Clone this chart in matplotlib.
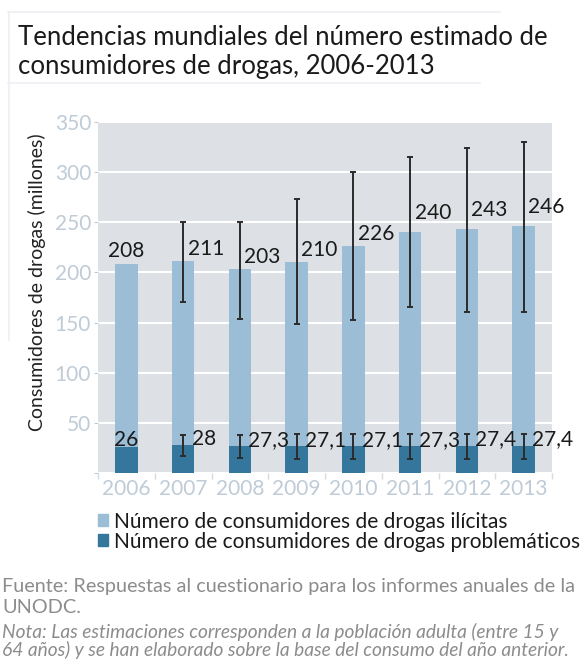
import matplotlib.pyplot as plt
from matplotlib.patches import Patch
from matplotlib.lines import Line2D
import numpy as np

plt.rcParams['font.family'] = ['Lato', 'DejaVu Sans']

# data
years = ['2006', '2007', '2008', '2009', '2010', '2011', '2012', '2013']
ilicitas = [208, 211, 203, 210, 226, 240, 243, 246]
ilicitas_low = [np.nan, 171, 154, 149, 153, 166, 161, 161]
ilicitas_high = [np.nan, 250, 250, 273, 300, 315, 324, 330]
problematicos = [26, 28, 27.3, 27.1, 27.1, 27.3, 27.4, 27.4]
prob_low = [np.nan, 17, 15, 14, 14, 14, 14, 14]
prob_high = [np.nan, 38, 38, 39, 39, 39, 39, 39]
ilicitas_labels = ['208', '211', '203', '210', '226', '240', '243', '246']
prob_labels = ['26', '28', '27,3', '27,1', '27,1', '27,3', '27,4', '27,4']

light = '#9bbdd6'
dark = '#35779c'
tick_col = '#bfcbd6'

fig = plt.figure(figsize=(5.82, 6.65), dpi=100)
ax = fig.add_axes([98/582, 1-473/665, 454/582, 351/665])
ax.set_facecolor('#dde1e5')

x = np.arange(len(years))
ax.bar(x, ilicitas, width=0.4, color=light, zorder=2)
ax.bar(x, problematicos, width=0.4, color=dark, zorder=3)

il = np.array(ilicitas, dtype=float)
pr = np.array(problematicos, dtype=float)
ax.errorbar(x, il, yerr=[il - np.array(ilicitas_low), np.array(ilicitas_high) - il],
            fmt='none', ecolor='#2b2b2b', elinewidth=1.4, capsize=2.5, capthick=1.4, zorder=4)
ax.errorbar(x, pr, yerr=[pr - np.array(prob_low), np.array(prob_high) - pr],
            fmt='none', ecolor='#2b2b2b', elinewidth=1.4, capsize=2.5, capthick=1.4, zorder=4)

# value labels
for i in range(len(years)):
    if i == 0:
        ax.text(x[i], ilicitas[i] + 13, ilicitas_labels[i], ha='center', va='center',
                fontsize=15, color='#1a1a1a', zorder=5)
        ax.text(x[i], problematicos[i] + 7, prob_labels[i], ha='center', va='center',
                fontsize=15, color='#1a1a1a', zorder=5)
    else:
        dy = 12 if ilicitas[i] < 230 else 19
        ax.text(x[i] + 0.08, ilicitas[i] + dy, ilicitas_labels[i], ha='left', va='center',
                fontsize=15, color='#1a1a1a', zorder=5)
        ax.text(x[i] + 0.15, problematicos[i] + 6, prob_labels[i], ha='left', va='center',
                fontsize=15, color='#1a1a1a', zorder=5)

ax.set_xlim(-0.5, len(years) - 0.5)
ax.set_ylim(0, 350)
ax.set_yticks([0, 50, 100, 150, 200, 250, 300, 350])
ax.set_yticklabels(['', '50', '100', '150', '200', '250', '300', '350'])
ax.yaxis.grid(True, color='white', linewidth=1.5, zorder=1)
ax.set_axisbelow(True)
ax.set_xticks(x)
ax.set_xticklabels(years)
ax.set_xticks(np.arange(-0.5, len(years)), minor=True)
ax.tick_params(axis='x', which='major', length=0, labelsize=15, labelcolor=tick_col, pad=4)
ax.tick_params(axis='x', which='minor', length=4, color='#d5dbe1', width=1)
ax.tick_params(axis='y', length=3, color=tick_col, labelsize=15, labelcolor=tick_col, pad=2)
for s in ax.spines.values():
    s.set_visible(False)

fig.text(37/582, 1-282/665, 'Consumidores de drogas (millones)', rotation=90,
         fontsize=14, color='#222222', ha='center', va='center')

# title
fig.text(18/582, 1-52/665, 'Tendencias mundiales del número estimado de\nconsumidores de drogas, 2006-2013',
         fontsize=18.5, color='#1a1a1a', ha='left', va='center', linespacing=1.2)

# faint frame lines
fig.add_artist(Line2D([8/582, 500/582], [1-12/665, 1-12/665], color='#eceff2', lw=1.2, transform=fig.transFigure))
fig.add_artist(Line2D([8/582, 480/582], [1-83/665, 1-83/665], color='#eceff2', lw=1.2, transform=fig.transFigure))
fig.add_artist(Line2D([9/582, 9/582], [1-12/665, 1-340/665], color='#eceff2', lw=1.2, transform=fig.transFigure))

# legend
handles = [Patch(color=light, label='Número de consumidores de drogas ilícitas'),
           Patch(color=dark, label='Número de consumidores de drogas problemáticos')]
fig.legend(handles=handles, loc='center left', bbox_to_anchor=(98/582, 1-531.5/665), frameon=False,
           fontsize=15, handlelength=0.5, handleheight=0.5, handletextpad=0.25,
           labelspacing=0.0, borderpad=0, borderaxespad=0, labelcolor='#1a1a1a')

# footer
fig.text(2/582, 1-597/665, 'Fuente: Respuestas al cuestionario para los informes anuales de la\nUNODC.',
         fontsize=14.3, color='#8c8c8c', ha='left', va='center', linespacing=1.25)
fig.text(2/582, 1-641/665, 'Nota: Las estimaciones corresponden a la población adulta (entre 15 y\n64 años) y se han elaborado sobre la base del consumo del año anterior.',
         fontsize=13.8, color='#8c8c8c', ha='left', va='center', style='italic', linespacing=0.95)

fig.savefig('out.png', dpi=100)
